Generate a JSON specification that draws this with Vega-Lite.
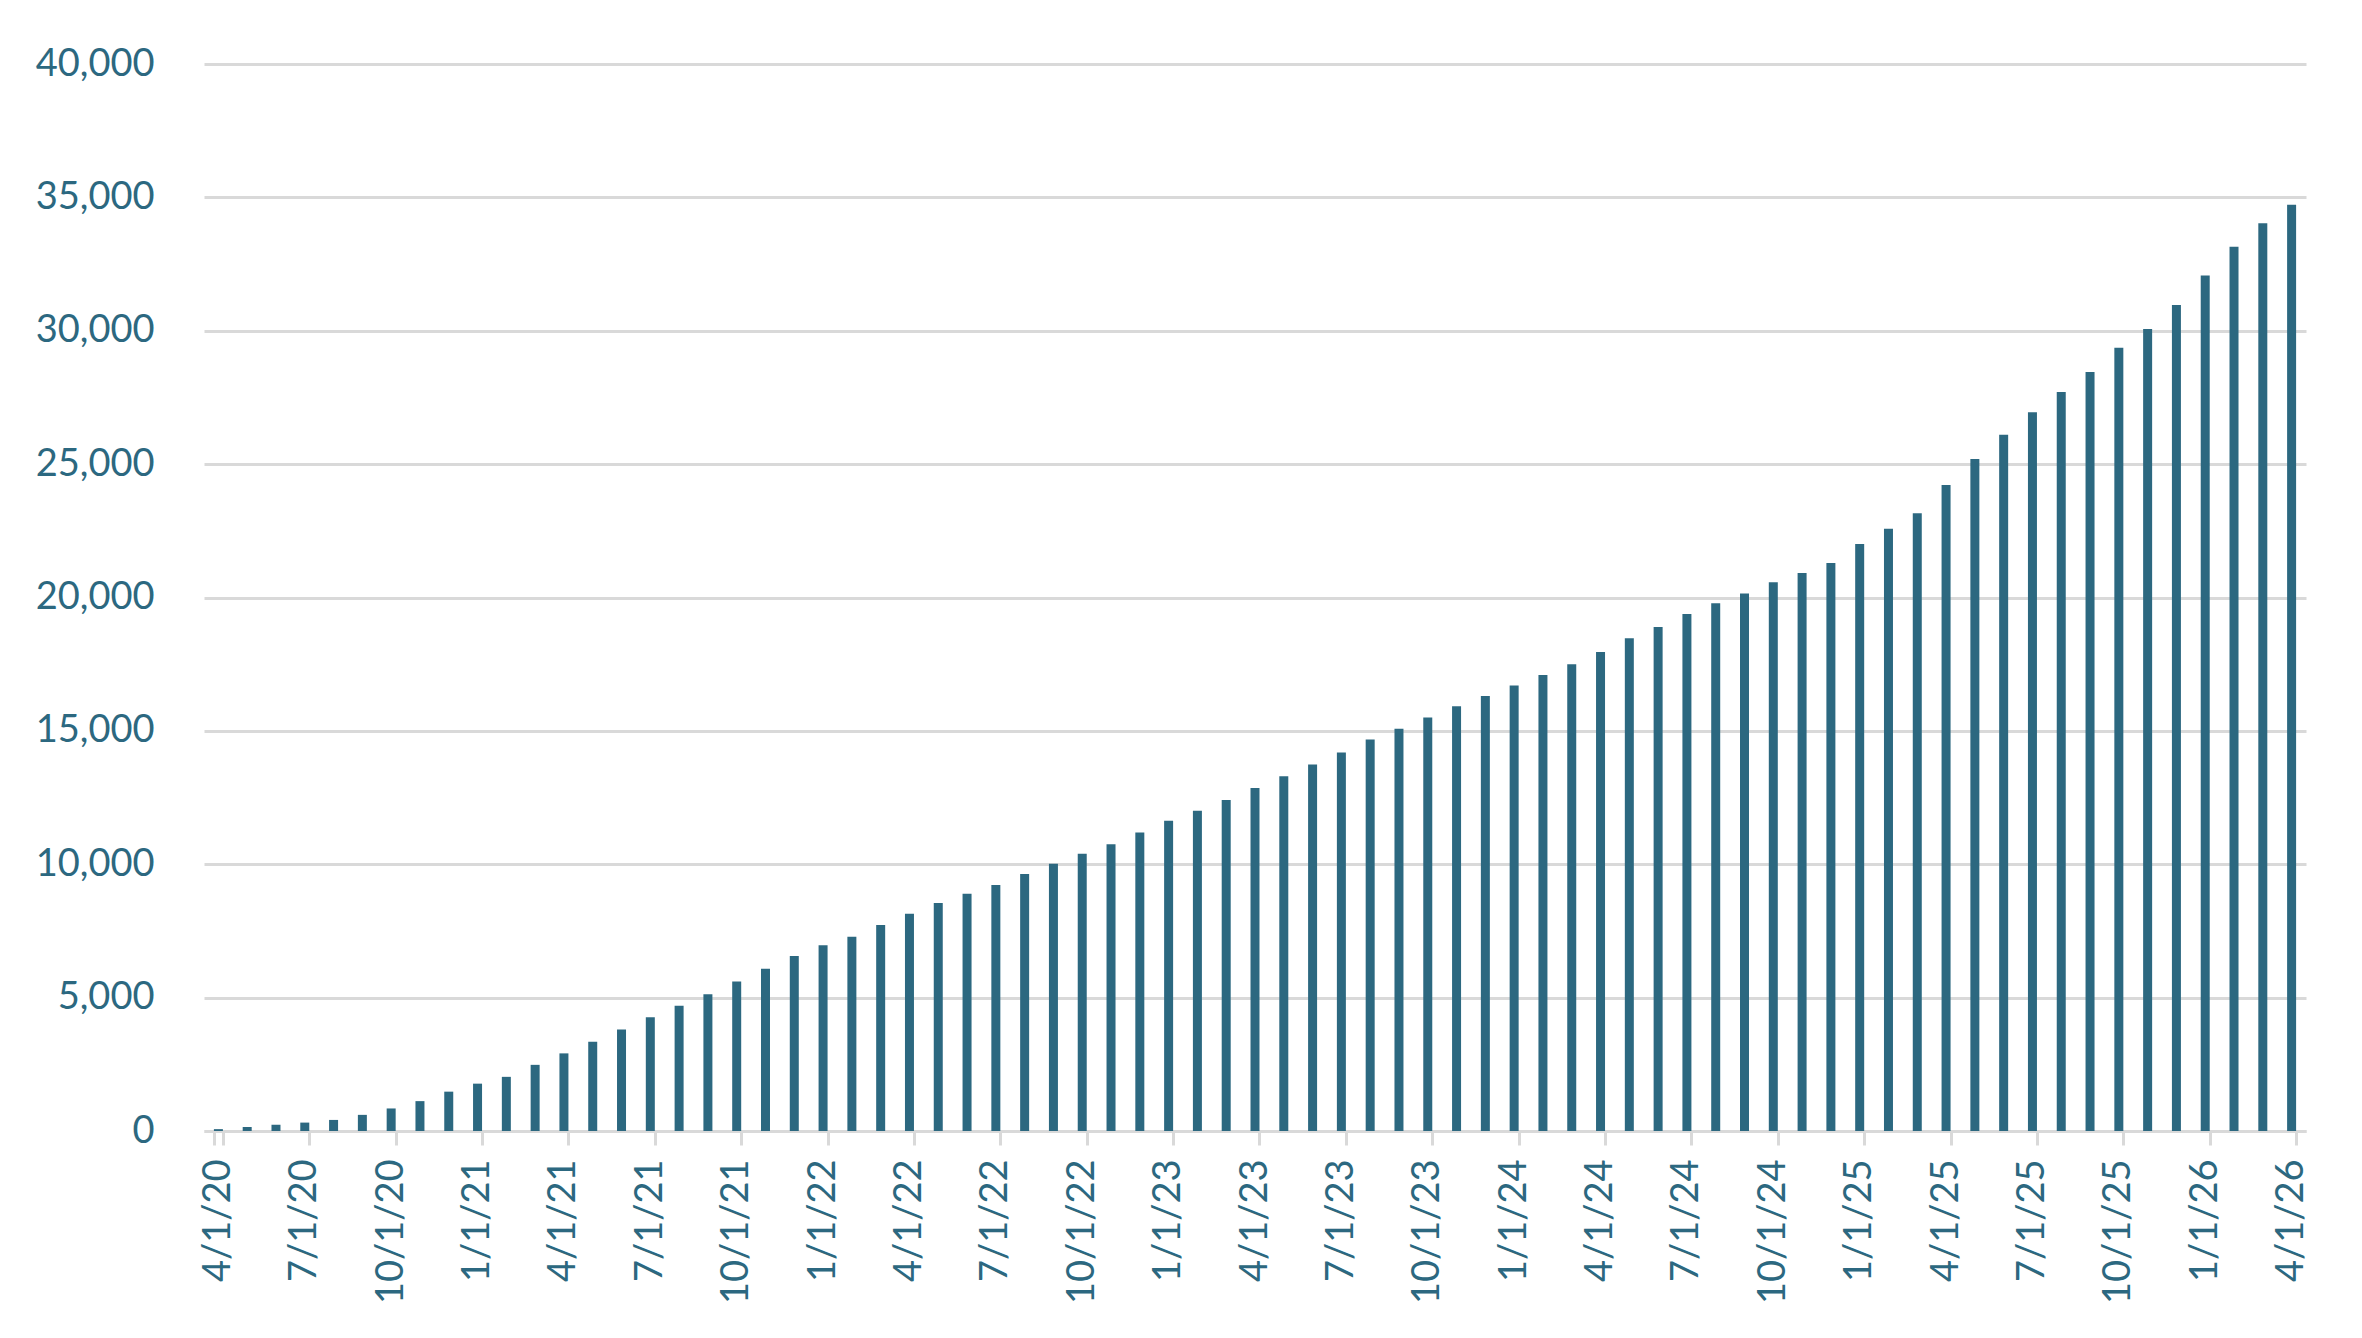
{
  "$schema": "https://vega.github.io/schema/vega-lite/v6.json",
  "autosize": {"type": "none"},
  "width": 2102,
  "height": 1067,
  "padding": {"left": 204, "top": 64, "right": 56, "bottom": 207},
  "background": "white",
  "config": {
    "view": {"stroke": null},
    "font": "Lato"
  },
  "data": {
    "values": [
      {"d": "4/1/20", "v": 70}, {"d": "5/1/20", "v": 150}, {"d": "6/1/20", "v": 230},
      {"d": "7/1/20", "v": 315}, {"d": "8/1/20", "v": 415}, {"d": "9/1/20", "v": 605},
      {"d": "10/1/20", "v": 845}, {"d": "11/1/20", "v": 1120}, {"d": "12/1/20", "v": 1475},
      {"d": "1/1/21", "v": 1775}, {"d": "2/1/21", "v": 2030}, {"d": "3/1/21", "v": 2480},
      {"d": "4/1/21", "v": 2910}, {"d": "5/1/21", "v": 3350}, {"d": "6/1/21", "v": 3805},
      {"d": "7/1/21", "v": 4260}, {"d": "8/1/21", "v": 4700}, {"d": "9/1/21", "v": 5125},
      {"d": "10/1/21", "v": 5600}, {"d": "11/1/21", "v": 6080}, {"d": "12/1/21", "v": 6565},
      {"d": "1/1/22", "v": 6965}, {"d": "2/1/22", "v": 7280}, {"d": "3/1/22", "v": 7720},
      {"d": "4/1/22", "v": 8145}, {"d": "5/1/22", "v": 8545}, {"d": "6/1/22", "v": 8895},
      {"d": "7/1/22", "v": 9225}, {"d": "8/1/22", "v": 9635}, {"d": "9/1/22", "v": 10015},
      {"d": "10/1/22", "v": 10390}, {"d": "11/1/22", "v": 10750}, {"d": "12/1/22", "v": 11190},
      {"d": "1/1/23", "v": 11630}, {"d": "2/1/23", "v": 12005}, {"d": "3/1/23", "v": 12405},
      {"d": "4/1/23", "v": 12855}, {"d": "5/1/23", "v": 13295}, {"d": "6/1/23", "v": 13735},
      {"d": "7/1/23", "v": 14185}, {"d": "8/1/23", "v": 14675}, {"d": "9/1/23", "v": 15075},
      {"d": "10/1/23", "v": 15500}, {"d": "11/1/23", "v": 15925}, {"d": "12/1/23", "v": 16305},
      {"d": "1/1/24", "v": 16705}, {"d": "2/1/24", "v": 17090}, {"d": "3/1/24", "v": 17495},
      {"d": "4/1/24", "v": 17955}, {"d": "5/1/24", "v": 18470}, {"d": "6/1/24", "v": 18895},
      {"d": "7/1/24", "v": 19385}, {"d": "8/1/24", "v": 19785}, {"d": "9/1/24", "v": 20150},
      {"d": "10/1/24", "v": 20575}, {"d": "11/1/24", "v": 20915}, {"d": "12/1/24", "v": 21290},
      {"d": "1/1/25", "v": 22005}, {"d": "2/1/25", "v": 22580}, {"d": "3/1/25", "v": 23160},
      {"d": "4/1/25", "v": 24220}, {"d": "5/1/25", "v": 25190}, {"d": "6/1/25", "v": 26105},
      {"d": "7/1/25", "v": 26945}, {"d": "8/1/25", "v": 27700}, {"d": "9/1/25", "v": 28450},
      {"d": "10/1/25", "v": 29365}, {"d": "11/1/25", "v": 30065}, {"d": "12/1/25", "v": 30965},
      {"d": "1/1/26", "v": 32070}, {"d": "2/1/26", "v": 33150}, {"d": "3/1/26", "v": 34030},
      {"d": "4/1/26", "v": 34720}
    ]
  },
  "mark": {"type": "bar", "color": "#2C6880"},
  "encoding": {
    "x": {
      "field": "d",
      "type": "ordinal",
      "sort": null,
      "title": null,
      "scale": {"paddingInner": 0.6875, "paddingOuter": 0.34375},
      "axis": {
        "values": ["4/1/20", "7/1/20", "10/1/20", "1/1/21", "4/1/21", "7/1/21", "10/1/21",
                   "1/1/22", "4/1/22", "7/1/22", "10/1/22", "1/1/23", "4/1/23", "7/1/23",
                   "10/1/23", "1/1/24", "4/1/24", "7/1/24", "10/1/24", "1/1/25", "4/1/25",
                   "7/1/25", "10/1/25", "1/1/26", "4/1/26"],
        "tickBand": "extent",
        "labelAngle": -90,
        "labelFontSize": 38,
        "labelColor": "#2C6880",
        "labelPadding": 14,
        "tickSize": 14,
        "tickWidth": 3,
        "tickColor": "#D9D9D9",
        "domainColor": "#D9D9D9",
        "domainWidth": 3,
        "grid": false
      }
    },
    "y": {
      "field": "v",
      "type": "quantitative",
      "title": null,
      "scale": {"domain": [0, 40000], "nice": false},
      "axis": {
        "values": [0, 5000, 10000, 15000, 20000, 25000, 30000, 35000, 40000],
        "format": ",.0f",
        "labelFontSize": 38,
        "labelColor": "#2C6880",
        "labelPadding": 50,
        "ticks": false,
        "domain": false,
        "grid": true,
        "gridColor": "#D9D9D9",
        "gridWidth": 3
      }
    }
  }
}
